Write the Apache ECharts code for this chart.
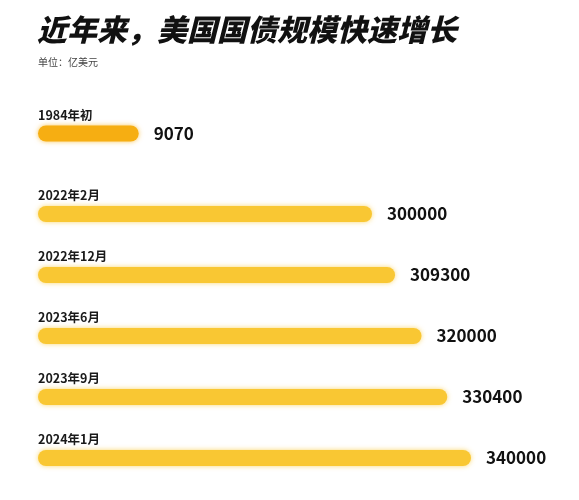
<!DOCTYPE html>
<html><head><meta charset="utf-8">
<script src="https://cdn.jsdelivr.net/npm/echarts@6/dist/echarts.min.js"></script>
<style>html,body{margin:0;padding:0;background:#fff}#c{width:579px;height:500px}</style>
</head><body><div id="c"></div>
<script>
const titleText = '近年来，美国国债规模快速增长';
const unitText = '单位：亿美元';
const earlyCategory = ['1984年初'];
const earlyValues = [9070];
const recentCategories = ['2022年2月', '2022年12月', '2023年6月', '2023年9月', '2024年1月'];
const recentValues = [300000, 309300, 320000, 330400, 340000];

const FONT = '"Noto Sans CJK SC", "Noto Sans", sans-serif';
const chart = echarts.init(document.getElementById('c'), null, {renderer: 'canvas'});

function catAxis(gridIndex, data) {
  return {
    type: 'category', gridIndex, data, inverse: true,
    axisLine: {show: false}, axisTick: {show: false}, splitLine: {show: false},
    axisLabel: {
      inside: true, margin: 0, align: 'left', verticalAlign: 'bottom',
      padding: [0, 0, 12, 0],
      fontFamily: FONT, fontSize: 12.5, fontWeight: 'bold', color: '#1a1a1a'
    }
  };
}
function valAxis(gridIndex, min, max) {
  return {
    type: 'value', gridIndex, min, max, show: false,
    splitLine: {show: false}
  };
}
function barSeries(idx, data, color, glow) {
  return {
    type: 'bar', xAxisIndex: idx, yAxisIndex: idx, data,
    barWidth: 16, silent: true,
    itemStyle: {color, borderRadius: 8, shadowBlur: 5, shadowColor: glow},
    label: {
      show: true, position: 'right', distance: 15,
      fontFamily: FONT, fontSize: 17, fontWeight: 'bold', color: '#111'
    }
  };
}

chart.setOption({
  animation: false,
  backgroundColor: '#ffffff',
  title: [
    {text: titleText, left: 37, top: 15, padding: 0,
     textStyle: {fontFamily: FONT, fontSize: 30, fontWeight: 900, fontStyle: 'italic', color: '#111'}},
    {text: unitText, left: 38, top: 57, padding: 0,
     textStyle: {fontFamily: FONT, fontSize: 10, fontWeight: 'normal', color: '#444'}}
  ],
  grid: [
    {left: 38, top: 103, width: 433, height: 61},
    {left: 38, top: 183.5, width: 433, height: 305}
  ],
  xAxis: [valAxis(0, 0, 39000), valAxis(1, 165000, 340000)],
  yAxis: [catAxis(0, earlyCategory), catAxis(1, recentCategories)],
  series: [
    barSeries(0, earlyValues, '#F6AE12', 'rgba(246,174,18,0.7)'),
    barSeries(1, recentValues, '#F9C733', 'rgba(249,199,51,0.7)')
  ]
});
</script>
</body></html>
